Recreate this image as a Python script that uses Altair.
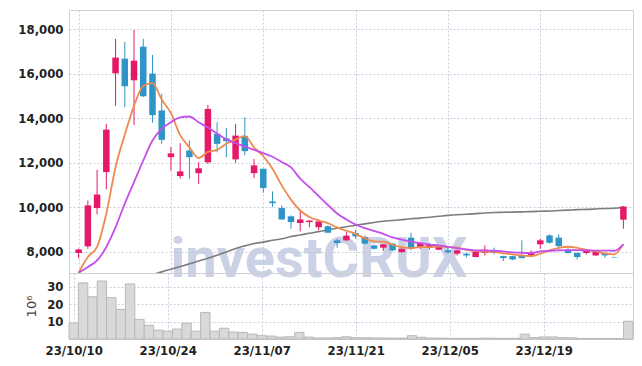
import altair as alt
import pandas as pd

# ---- data (index = trading day) ----
opens = [7940, 8240, 9960, 11580, 16020, 16680, 15710, 17220, 16010, 14350,
         12250, 11400, 12550, 11530, 12020, 13300, 13090, 12150, 13210, 11530,
         11730, 10260, 9960, 9590, 9290, 9330, 9100, 9140, 8510, 8510,
         8840, 8660, 8280, 8180, 8360, 7980, 8630, 8210, 8180, 8090,
         8060, 7910, 7910, 7760, 7940, 8010, 7800, 7800, 7830, 7830,
         8330, 8730, 8630, 8090, 7940, 7940, 7830, 7940, 7760, 9440]
closes = [8100, 10080, 10570, 13490, 16730, 15440, 16590, 14990, 14140, 13030,
          12420, 11610, 12250, 11750, 14420, 12850, 12970, 13220, 12520, 11880,
          10860, 10180, 9450, 9330, 9450, 9400, 9360, 8850, 8390, 8720,
          8690, 8360, 8130, 8330, 8060, 8130, 8130, 8390, 8310, 8210,
          7970, 8060, 7830, 8010, 8090, 7940, 7710, 7650, 7710, 7980,
          8510, 8400, 8250, 7940, 7760, 8060, 8030, 7830, 7740, 10030]
highs = [8140, 10300, 11680, 13750, 17570, 17430, 17970, 17570, 16850, 15100,
         12700, 12880, 13000, 12020, 14600, 13820, 13570, 13750, 14050, 12160,
         11730, 10710, 10080, 9630, 9850, 9400, 9450, 9180, 8580, 8880,
         8990, 8730, 8310, 8330, 8380, 8150, 8850, 8420, 8390, 8300,
         8200, 8070, 7940, 8030, 8280, 8180, 7820, 7820, 8510, 8060,
         8580, 8780, 8780, 8160, 7960, 8100, 8050, 7960, 7780, 10050]
lows = [7710, 8130, 9680, 10800, 14560, 14500, 13700, 14950, 13800, 12850,
        11650, 11280, 11280, 11050, 11950, 12470, 12250, 12000, 12330, 11320,
        10650, 10000, 9420, 9030, 8910, 9100, 8960, 8850, 8180, 8480,
        8580, 8330, 8100, 8030, 8020, 7960, 8060, 8120, 8090, 8060,
        7910, 7830, 7730, 7740, 7830, 7880, 7580, 7610, 7690, 7810,
        8130, 8360, 8060, 7910, 7650, 7880, 7810, 7730, 7740, 9030]
volumes = [9.2, 32.3, 24.3, 33.4, 23.8, 17.0, 31.7, 11.3, 7.9, 5.1,
           4.5, 5.7, 9.1, 4.5, 15.3, 4.5, 6.2, 4.0, 3.8, 2.8,
           1.9, 1.7, 1.1, 1.3, 3.8, 1.1, 0.6, 0.6, 0.8, 1.3,
           0.8, 0.7, 0.6, 0.6, 0.5, 0.5, 1.9, 1.0, 0.6, 0.5,
           0.4, 0.4, 0.4, 0.4, 0.5, 0.4, 0.4, 0.4, 2.8, 0.8,
           1.2, 1.2, 0.8, 0.7, 0.3, 0.3, 0.3, 0.3, 0.2, 10.2]
ma5 = [7050, 7760, 8210, 9710, 11800, 13260, 14560, 15450, 15580, 14840,
       14230, 13240, 12690, 12210, 12490, 12580, 12850, 13040, 13200, 12690,
       12290, 11730, 10980, 10340, 9850, 9560, 9400, 9280, 9090, 8940,
       8800, 8600, 8460, 8450, 8310, 8200, 8160, 8210, 8200, 8230,
       8200, 8190, 8080, 8020, 7990, 7990, 7920, 7880, 7820, 7800,
       7910, 8050, 8170, 8220, 8170, 8080, 8010, 7920, 7880, 8340]
ma20 = [7050, 7310, 7610, 8210, 9100, 10160, 11130, 12100, 13000, 13520,
        13820, 14040, 14080, 13820, 13580, 13300, 13050, 12880, 12730, 12580,
        12430, 12270, 12030, 11790, 11280, 10900, 10500, 10100, 9720, 9450,
        9220, 9060, 8930, 8800, 8640, 8540, 8450, 8380, 8320, 8280,
        8220, 8150, 8100, 8060, 8050, 8040, 8010, 7970, 7950, 7940,
        8010, 8040, 8060, 8070, 8070, 8060, 8050, 8050, 8040, 8330]
ma_long = [None] * 8 + [
    6960, 7090, 7210, 7330, 7450, 7580, 7700, 7840, 7990, 8140,
    8260, 8370, 8430, 8510, 8580, 8680, 8750, 8830, 8900, 8980,
    9050, 9120, 9190, 9250, 9310, 9370, 9400, 9440, 9480, 9510,
    9550, 9590, 9630, 9660, 9680, 9710, 9740, 9760, 9770, 9780,
    9790, 9800, 9820, 9830, 9850, 9870, 9890, 9900, 9920, 9940,
    9950, 10000]
tick_positions = [0, 10, 20, 30, 40, 50]
tick_labels = ["23/10/10", "23/10/24", "23/11/07", "23/11/21", "23/12/05", "23/12/19"]
price_ticks = [8000, 10000, 12000, 14000, 16000, 18000]
volume_ticks = [10, 20, 30]

df = pd.DataFrame({
    "idx": list(range(len(opens))),
    "open": opens, "close": closes, "high": highs, "low": lows,
    "vol": volumes, "ma5": ma5, "ma20": ma20, "ma_long": ma_long,
})
df["dir"] = ["up" if c >= o else "down" for o, c in zip(opens, closes)]

FONT = "DejaVu Sans Condensed"
RED = "#E5196A"
BLUE = "#2E95C6"

x_scale = alt.Scale(domain=[-0.5, 59.5], nice=False, zero=False)
label_expr = "[" + ",".join("'%s'" % t for t in tick_labels) + "][round(datum.value / 10)]"

base = alt.Chart(df)

x_top = alt.X("idx:Q", scale=x_scale, title=None,
              axis=alt.Axis(values=tick_positions, labels=False, grid=True))
y_price = alt.Scale(domain=[7040, 18870], nice=False, zero=False)
y_axis = alt.Axis(values=price_ticks, labelExpr="format(datum.value, ',d')", grid=True)


def yp(field):
    return alt.Y(field, scale=y_price, title=None, axis=y_axis)


watermark = alt.Chart(pd.DataFrame({"t": ["investCRUX"]})).mark_text(
    font="Roboto", fontWeight="bold", fontSize=56, color="#c2cbe2", opacity=0.85,
    align="center", baseline="alphabetic"
).encode(text="t:N", x=alt.value(250), y=alt.value(267))

grey_line = base.mark_line(color="#7d7d7d", strokeWidth=1.6, clip=True,
                           interpolate="monotone").encode(x=x_top, y=yp("ma_long:Q"))

color_enc = alt.Color("dir:N", scale=alt.Scale(domain=["up", "down"], range=[RED, BLUE]), legend=None)

wicks = base.mark_rule(strokeWidth=1, clip=True).encode(
    x=x_top, y=yp("low:Q"), y2="high:Q", color=color_enc)
bodies = base.mark_bar(size=6.5, clip=True).encode(
    x=x_top, y=yp("open:Q"), y2="close:Q", color=color_enc)

orange = base.mark_line(color="#EF8A4F", strokeWidth=1.8, clip=True,
                        interpolate="monotone").encode(x=x_top, y=yp("ma5:Q"))
purple = base.mark_line(color="#C64FEA", strokeWidth=1.8, clip=True,
                        interpolate="monotone").encode(x=x_top, y=yp("ma20:Q"))

price = alt.layer(watermark, grey_line, wicks, bodies, orange, purple).properties(
    width=564, height=263)

vol = base.transform_calculate(x0="datum.idx - 0.5", x1="datum.idx + 0.5").mark_rect(
    fill="#d9d9d9", stroke="#b9b9b9", strokeWidth=1
).encode(
    x=alt.X("x0:Q", scale=x_scale, title=None,
            axis=alt.Axis(values=tick_positions, labelExpr=label_expr, grid=True,
                          labelPadding=5)),
    x2="x1:Q",
    y=alt.Y("vol:Q", scale=alt.Scale(domain=[0, 38], nice=False),
            title="10⁶",
            axis=alt.Axis(values=volume_ticks, grid=True, titleFont="DejaVu Sans",
                          titleFontWeight="normal", titleFontSize=13, titleColor="#444",
                          titlePadding=8)),
    y2=alt.datum(0),
).properties(width=564, height=66)

chart = alt.vconcat(price, vol, spacing=0, bounds="flush").properties(
    padding={"left": 9, "top": 1, "right": 0, "bottom": 0}
).configure_view(stroke="#cfcfcf", strokeWidth=1).configure_axis(
    domain=False, ticks=False, gridColor="#c9cede", gridDash=[2, 2], gridWidth=1,
    labelFont=FONT, labelFontWeight="bold", labelFontSize=13, labelColor="#222",
    labelPadding=6
)

chart.save("out.html", embed_options={"renderer": "svg", "actions": False})
